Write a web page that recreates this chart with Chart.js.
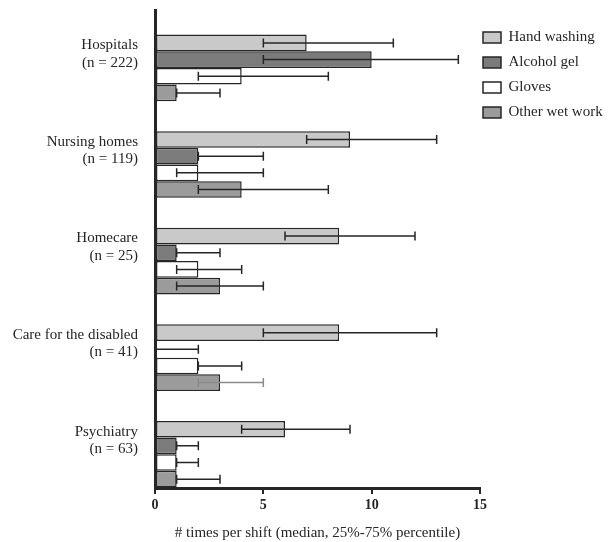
<!DOCTYPE html>
<html>
<head>
<meta charset="utf-8">
<script src="https://cdn.jsdelivr.net/npm/chart.js@4"></script>
<style>
  body { margin: 0; background: #fff; }
</style>
</head>
<body>
<canvas id="chart" width="608" height="542"></canvas>
<script>
// categorias (eixo y)
const categories = [
  ['Hospitals', '(n = 222)'],
  ['Nursing homes', '(n = 119)'],
  ['Homecare', '(n = 25)'],
  ['Care for the disabled', '(n = 41)'],
  ['Psychiatry', '(n = 63)']
];

// medianas
const handWashing = [7, 9, 8.5, 8.5, 6];
const alcoholGel = [10, 2, 1, 0, 1];
const gloves = [4, 2, 2, 2, 1];
const otherWetWork = [1, 4, 3, 3, 1];

// percentis 25% e 75%
const handWashingLow = [5, 7, 6, 5, 4];
const handWashingHigh = [11, 13, 12, 13, 9];
const alcoholGelLow = [5, 2, 1, 0, 1];
const alcoholGelHigh = [14, 5, 3, 2, 2];
const glovesLow = [2, 1, 1, 2, 1];
const glovesHigh = [8, 5, 4, 4, 2];
const otherWetWorkLow = [1, 2, 1, 2, 1];
const otherWetWorkHigh = [3, 8, 5, 5, 3];

// ticks do eixo x
const xTicks = [0, 5, 10, 15];

const serif = '"Liberation Serif", "DejaVu Serif", serif';
const ink = '#262626';

// barras de erro (percentis)
const errorBars = {
  id: 'errorBars',
  afterDatasetsDraw(chart) {
    const ctx = chart.ctx;
    const xScale = chart.scales.x;
    chart.data.datasets.forEach((ds, i) => {
      const meta = chart.getDatasetMeta(i);
      if (meta.hidden) return;
      meta.data.forEach((bar, j) => {
        const x1 = xScale.getPixelForValue(ds.errLow[j]);
        const x2 = xScale.getPixelForValue(ds.errHigh[j]);
        const y = bar.y;
        const cap = 4.5;
        ctx.save();
        ctx.strokeStyle = (ds.errColor && ds.errColor[j]) || ink;
        ctx.lineWidth = 1.5;
        ctx.beginPath();
        ctx.moveTo(x1, y); ctx.lineTo(x2, y);
        ctx.moveTo(x1, y - cap); ctx.lineTo(x1, y + cap);
        ctx.moveTo(x2, y - cap); ctx.lineTo(x2, y + cap);
        ctx.stroke();
        ctx.restore();
      });
    });
  }
};

// aproxima a legenda do grafico
const legendShift = {
  id: 'legendShift',
  afterLayout(chart) {
    const lg = chart.legend;
    lg.left -= 7;
    lg.top += 10; lg.bottom += 10;
  }
};

function makeSet(label, values, low, high, color, extra) {
  return Object.assign({
    label,
    data: values.map((v, i) => ({ x: v, y: i })),
    errLow: low,
    errHigh: high,
    backgroundColor: color,
    borderColor: ink,
    borderWidth: 1.5,
    borderSkipped: false,
    categoryPercentage: 0.69,
    barPercentage: 1
  }, extra || {});
}

new Chart(document.getElementById('chart'), {
  type: 'bar',
  data: {
    datasets: [
      makeSet('Hand washing', handWashing, handWashingLow, handWashingHigh, '#c9c9c9'),
      makeSet('Alcohol gel', alcoholGel, alcoholGelLow, alcoholGelHigh, '#7b7b7b'),
      makeSet('Gloves', gloves, glovesLow, glovesHigh, '#ffffff'),
      makeSet('Other wet work', otherWetWork, otherWetWorkLow, otherWetWorkHigh, '#9b9b9b',
        { errColor: [null, null, null, '#8a8a8a', null] })
    ]
  },
  options: {
    indexAxis: 'y',
    responsive: false,
    animation: false,
    layout: { padding: { top: 10, right: 0, left: 0, bottom: 0 } },
    scales: {
      x: {
        type: 'linear',
        min: 0,
        max: 15,
        afterBuildTicks(scale) {
          scale.ticks = xTicks.map(v => ({ value: v }));
        },
        afterFit(scale) { scale.height = 54; },
        grid: { drawOnChartArea: false, drawTicks: true, tickLength: 6, lineWidth: 2, color: ink },
        border: { display: true, width: 3, color: ink },
        ticks: {
          color: ink,
          padding: 3,
          font: { family: serif, size: 14, weight: 'bold' }
        },
        title: {
          display: true,
          text: '# times per shift (median, 25%-75% percentile)',
          color: ink,
          padding: { top: 6, bottom: 0 },
          font: { family: serif, size: 15 }
        }
      },
      y: {
        type: 'linear',
        reverse: true,
        offset: false,
        min: -0.6,
        max: 4.35,
        afterBuildTicks(scale) {
          scale.ticks = categories.map((c, i) => ({ value: i }));
        },
        afterFit(scale) {
          scale.width = 155;
          scale.paddingTop = 0;
          scale.paddingBottom = 0;
        },
        grid: { display: false, offset: false },
        border: { display: true, width: 3, color: ink },
        ticks: {
          color: ink,
          padding: 9,
          labelOffset: -14,
          callback: v => categories[v],
          font: { family: serif, size: 15, lineHeight: 1.15 }
        }
      }
    },
    plugins: {
      legend: {
        position: 'right',
        align: 'start',
        maxWidth: 128,
        labels: {
          color: ink,
          boxWidth: 18,
          boxHeight: 11,
          padding: 10,
          font: { family: serif, size: 15 }
        }
      },
      tooltip: { enabled: false }
    }
  },
  plugins: [errorBars, legendShift]
});
</script>
</body>
</html>
